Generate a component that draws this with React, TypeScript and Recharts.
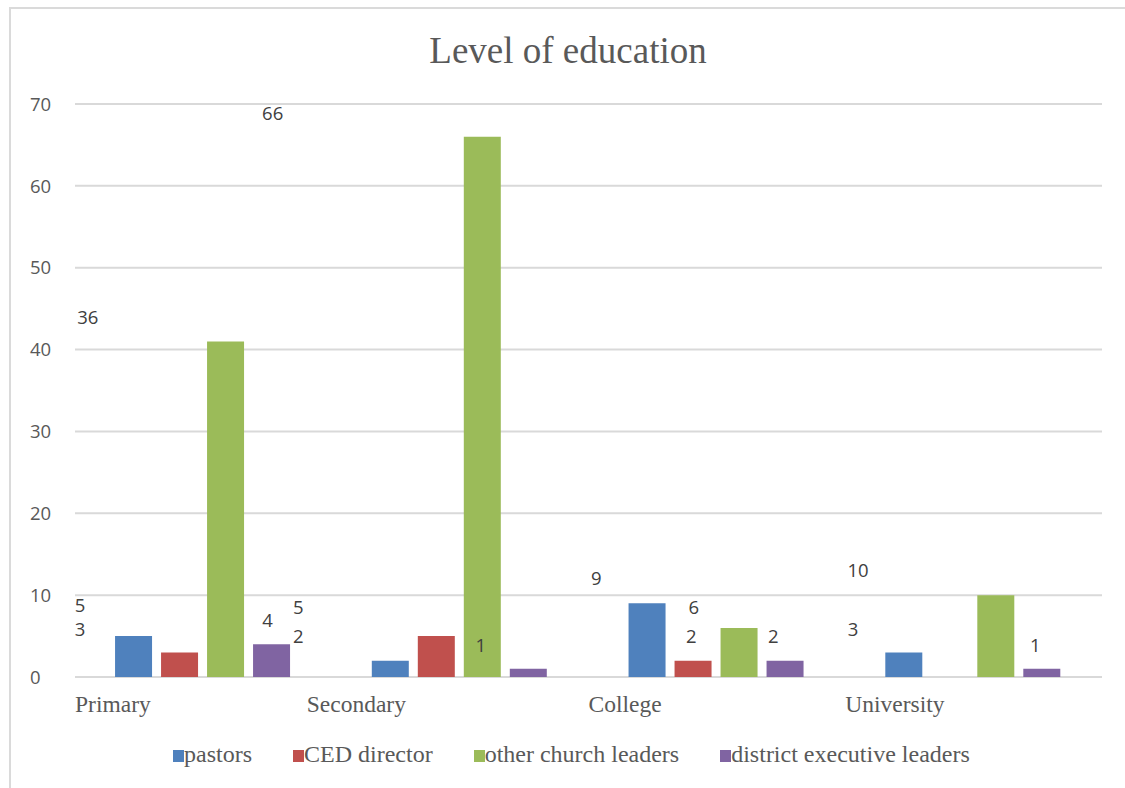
import React from 'react';
import { BarChart, Bar, XAxis, YAxis, CartesianGrid, ReferenceDot } from 'recharts';

// Education level categories and the counts for each group of respondents
const categories = ['Primary', 'Secondary', 'College', 'University'];
const pastors = [5, 2, 9, 3];
const cedDirector = [3, 5, 2, 0];
const otherChurchLeaders = [41, 66, 6, 10];
const districtExecutiveLeaders = [4, 1, 2, 1];
const yTicks = [0, 10, 20, 30, 40, 50, 60, 70];

// Value labels as they sit on the chart: text, position along the category axis
// (0 = start of Primary, 4 = end of University) and height in value units
const valueLabels = [
  { text: '5', at: 0.02, v: 8.7 },
  { text: '3', at: 0.02, v: 5.85 },
  { text: '36', at: 0.05, v: 43.98 },
  { text: '66', at: 0.77, v: 68.9 },
  { text: '4', at: 0.75, v: 6.96 },
  { text: '5', at: 0.87, v: 8.55 },
  { text: '2', at: 0.87, v: 5.01 },
  { text: '1', at: 1.58, v: 3.91 },
  { text: '9', at: 2.03, v: 12.09 },
  { text: '6', at: 2.41, v: 8.55 },
  { text: '2', at: 2.4, v: 5.01 },
  { text: '2', at: 2.72, v: 5.01 },
  { text: '10', at: 3.05, v: 13.07 },
  { text: '3', at: 3.03, v: 5.86 },
  { text: '1', at: 3.74, v: 3.91 },
];

const series = [
  { key: 'pastors', name: 'pastors', color: '#4F81BD', values: pastors },
  { key: 'ced', name: 'CED director', color: '#C0504D', values: cedDirector },
  { key: 'other', name: 'other church leaders', color: '#9BBB59', values: otherChurchLeaders },
  { key: 'district', name: 'district executive leaders', color: '#8064A2', values: districtExecutiveLeaders },
];

const data = categories.map((c, i) => {
  const row: Record<string, string | number> = { category: c, slot: i + 0.5 };
  series.forEach((s) => {
    row[s.key] = s.values[i];
  });
  return row;
});

const W = 1125;
const H = 788;
const PLOT_LEFT = 75;
const PLOT_RIGHT = 1102;
const PLOT_TOP = 104;
const PLOT_BOTTOM = 677;
const X_AXIS_H = 40;
const BAND = (PLOT_RIGHT - PLOT_LEFT) / categories.length;

const SERIF = '"Liberation Serif", "Times New Roman", serif';
const SANS = '"Open Sans", "Liberation Sans", sans-serif';
const TEXT_GREY = '#595959';

// Category names start near the left edge of their band
const tickNudge: Record<string, number> = { Secondary: -25 };

const CategoryTick = (props: any) => {
  const { x, payload } = props;
  const name = payload.value as string;
  return (
    <text
      x={x - BAND / 2 + (tickNudge[name] || 0)}
      y={712}
      textAnchor="start"
      fontFamily={SERIF}
      fontSize={23.5}
      fill={TEXT_GREY}
    >
      {name}
    </text>
  );
};

const ValueTick = (props: any) => {
  const { y, payload } = props;
  return (
    <text x={30} y={y} dy="0.36em" textAnchor="start" fontFamily={SANS} fontSize={18.5} fill={TEXT_GREY}>
      {payload.value}
    </text>
  );
};

export default function App() {
  return (
    <div
      style={{
        position: 'absolute',
        left: 0,
        top: 0,
        width: W,
        height: H,
        overflow: 'hidden',
        background: '#ffffff',
      }}
    >
      <div
        style={{
          position: 'absolute',
          left: 9,
          top: 7,
          width: W + 100,
          height: H + 100,
          border: '2px solid #dadada',
          boxSizing: 'border-box',
        }}
      />
      <div
        style={{
          position: 'absolute',
          left: 0,
          top: 30,
          width: 1136,
          textAlign: 'center',
          fontFamily: SERIF,
          fontSize: 37,
          lineHeight: '41px',
          color: TEXT_GREY,
        }}
      >
        Level of education
      </div>
      <div style={{ position: 'absolute', left: 0, top: 0 }}>
        <BarChart
          width={W}
          height={H}
          data={data}
          margin={{ top: PLOT_TOP, right: W - PLOT_RIGHT, left: 0, bottom: H - PLOT_BOTTOM - X_AXIS_H }}
          barCategoryGap="15.6%"
          barGap={9}
        >
          <CartesianGrid vertical={false} stroke="#d9d9d9" strokeWidth={2} />
          <XAxis
            dataKey="category"
            height={X_AXIS_H}
            axisLine={false}
            tickLine={false}
            tick={<CategoryTick />}
            interval={0}
          />
          <XAxis
            xAxisId="pos"
            dataKey="slot"
            type="number"
            domain={[0, categories.length]}
            allowDataOverflow
            hide
          />
          <YAxis
            width={PLOT_LEFT}
            domain={[0, 70]}
            ticks={yTicks}
            axisLine={false}
            tickLine={false}
            tick={<ValueTick />}
            interval={0}
          />
          {series.map((s) => (
            <Bar key={s.key} dataKey={s.key} name={s.name} fill={s.color} isAnimationActive={false} />
          ))}
          {valueLabels.map((l, i) => (
            <ReferenceDot
              key={i}
              xAxisId="pos"
              x={l.at}
              y={l.v}
              r={0}
              shape={(p: any) => (
                <text
                  x={p.cx}
                  y={p.cy}
                  dy="0.36em"
                  textAnchor="middle"
                  fontFamily={SANS}
                  fontSize={18.5}
                  fill="#404040"
                >
                  {l.text}
                </text>
              )}
            />
          ))}
        </BarChart>
      </div>
      <div
        style={{
          position: 'absolute',
          left: 173,
          top: 741,
          display: 'flex',
          alignItems: 'flex-start',
          gap: 41,
          fontFamily: SERIF,
          fontSize: 24,
          lineHeight: '26px',
          color: TEXT_GREY,
          whiteSpace: 'nowrap',
        }}
      >
        {series.map((s) => (
          <div key={s.key} style={{ display: 'flex', alignItems: 'flex-start' }}>
            <span
              style={{
                display: 'inline-block',
                width: 11,
                height: 12,
                marginTop: 9,
                background: s.color,
              }}
            />
            <span>{s.name}</span>
          </div>
        ))}
      </div>
    </div>
  );
}
